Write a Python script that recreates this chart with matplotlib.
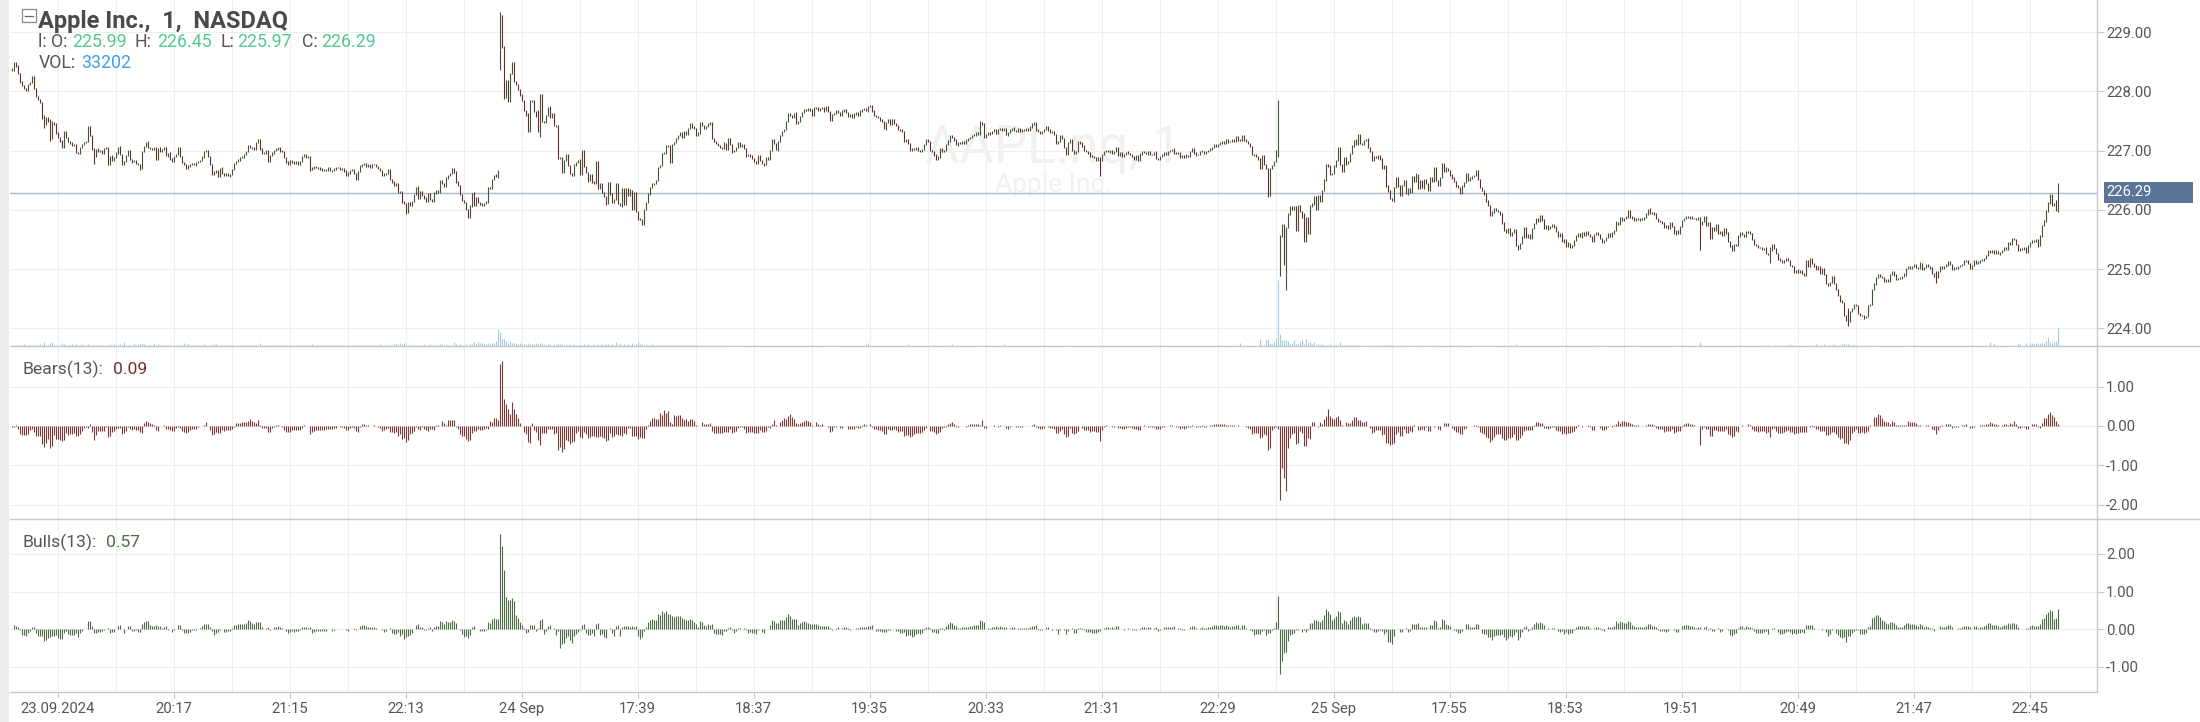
import numpy as np
import matplotlib
matplotlib.use("Agg")
import matplotlib.pyplot as plt
from matplotlib.patches import Rectangle
from matplotlib.lines import Line2D

# ---- data: 1-minute bars, prices in cents above 224.00 ----
day1_close = [
    437, 448, 443, 430, 416, 410, 405, 402, 412, 415,
    425, 405, 392, 387, 382, 354, 345, 356, 350, 320,
    348, 345, 330, 322, 316, 306, 332, 322, 316, 312,
    309, 310, 297, 296, 305, 311, 314, 316, 340, 325,
    303, 290, 302, 298, 301, 296, 304, 305, 276, 290,
    284, 289, 296, 306, 294, 276, 282, 292, 300, 285,
    282, 283, 278, 277, 270, 298, 307, 314, 306, 304,
    302, 306, 286, 304, 299, 302, 305, 292, 295, 286,
    282, 290, 294, 305, 290, 280, 277, 270, 274, 276,
    278, 276, 280, 282, 284, 290, 298, 300, 290, 276,
    260, 264, 266, 257, 270, 262, 259, 262, 258, 260,
    268, 278, 282, 284, 288, 290, 293, 298, 308, 306,
    305, 303, 314, 318, 303, 295, 297, 301, 282, 292,
    296, 300, 303, 305, 300, 298, 288, 281, 277, 284,
    281, 279, 281, 277, 282, 290, 293, 288, 290, 268,
    270, 273, 271, 272, 268, 266, 268, 267, 272, 266,
    267, 268, 272, 271, 268, 270, 266, 258, 262, 266,
    268, 262, 252, 265, 274, 276, 278, 274, 277, 272,
    276, 276, 273, 270, 266, 258, 260, 262, 268, 252,
    247, 242, 244, 230, 231, 213, 211, 196, 212, 208,
    214, 226, 238, 220, 231, 224, 220, 214, 228, 218,
    215, 228, 232, 229, 249, 244, 240, 255, 258, 261,
    269, 264, 247, 241, 226, 216, 213, 200, 188, 206,
    228, 208, 220, 212, 210, 208, 211, 214, 238, 236,
    252, 258, 256, 266,
]
day2_close = [
    528, 474, 390, 418, 384, 430, 448, 417, 412, 404,
    394, 385, 368, 360, 333, 384, 385, 366, 358, 332,
    395, 350, 347, 359, 373, 356, 363, 342, 343, 287,
    288, 264, 283, 294, 275, 261, 258, 276, 280, 284,
    260, 300, 273, 263, 249, 260, 247, 244, 282, 237,
    245, 230, 222, 211, 246, 227, 212, 218, 244, 211,
    207, 236, 210, 236, 224, 233, 200, 230, 197, 185,
    184, 176, 201, 212, 226, 238, 244, 245, 250, 272,
    275, 295, 296, 308, 309, 281, 310, 314, 320, 326,
    330, 322, 332, 328, 337, 345, 340, 337, 326, 330,
    348, 342, 338, 341, 345, 347, 321, 316, 312, 309,
    305, 304, 312, 303, 321, 310, 298, 300, 306, 313,
    308, 311, 304, 292, 294, 290, 287, 282, 279, 292,
    284, 278, 276, 288, 286, 300, 318, 312, 302, 316,
    325, 332, 336, 350, 362, 360, 357, 363, 346, 350,
    358, 364, 370, 368, 371, 369, 360, 372, 373, 368,
    371, 373, 368, 374, 366, 351, 361, 363, 368, 364,
    360, 366, 369, 365, 358, 361, 357, 362, 364, 359,
    367, 370, 371, 368, 374, 376, 367, 360, 358, 356,
    352, 350, 337, 348, 352, 345, 353, 346, 343, 336,
    334, 332, 316, 318, 312, 301, 304, 302, 305, 300,
    298, 302, 310, 318, 315, 301, 298, 292, 286, 290,
    304, 299, 300, 310, 316, 325, 322, 318, 310, 314,
    312, 316, 312, 317, 320, 322, 325, 327, 330, 328,
    348, 345, 322, 328, 331, 329, 333, 335, 330, 336,
    338, 334, 337, 327, 331, 335, 338, 334, 332, 337,
    333, 336, 335, 338, 335, 339, 345, 347, 335, 332,
    330, 332, 336, 340, 335, 331, 333, 328, 313, 316,
    325, 320, 305, 294, 314, 318, 301, 295, 299, 315,
    312, 308, 300, 298, 296, 291, 290, 288, 283, 288,
    284, 294, 298, 300, 298, 300, 296, 299, 306, 292,
    296, 290, 294, 297, 295, 293, 290, 286, 291, 283,
    294, 299, 297, 295, 299, 294, 293, 297, 287, 285,
    290, 293, 297, 294, 298, 300, 302, 296, 295, 297,
    289, 291, 288, 292, 291, 298, 303, 296, 293, 294,
    298, 299, 295, 298, 301, 304, 306, 311, 308, 310,
    313, 316, 313, 318, 315, 316, 319, 316, 323, 318,
    317, 326, 318, 316, 312, 307, 293, 292, 290, 286,
    270, 291, 276, 270, 224, 270, 275, 282, 300, 382,
]
day3_close = [
    156, 176, 108, 170, 193, 205, 200, 206, 166, 207,
    197, 188, 146, 187, 160, 207, 210, 222, 200, 224,
    215, 233, 250, 277, 275, 260, 262, 274, 283, 305,
    276, 265, 288, 278, 282, 295, 308, 317, 310, 328,
    312, 311, 317, 319, 305, 298, 284, 290, 288, 292,
    286, 270, 275, 240, 232, 219, 216, 238, 255, 240,
    225, 241, 249, 228, 236, 230, 257, 248, 260, 236,
    250, 238, 252, 244, 233, 255, 248, 271, 250, 242,
    255, 279, 265, 270, 266, 259, 254, 248, 241, 238,
    228, 240, 246, 261, 250, 254, 256, 258, 266, 252,
    238, 233, 227, 216, 208, 191, 196, 203, 199, 197,
    193, 179, 166, 162, 168, 157, 162, 166, 140, 135,
    143, 154, 170, 154, 158, 152, 168, 177, 185, 181,
    190, 183, 169, 174, 168, 172, 175, 170, 163, 156,
    160, 146, 150, 139, 143, 137, 140, 148, 156, 160,
    155, 161, 157, 163, 159, 155, 146, 159, 162, 158,
    151, 145, 148, 154, 160, 156, 161, 165, 179, 175,
    187, 183, 185, 188, 198, 189, 186, 183, 185, 184,
    186, 184, 187, 193, 201, 194, 196, 193, 185, 182,
    180, 178, 170, 173, 168, 179, 172, 160, 165, 161,
    172, 182, 185, 189, 187, 188, 186, 185, 184, 187,
    175, 181, 188, 174, 178, 152, 170, 166, 175, 160,
    164, 157, 168, 162, 146, 138, 131, 142, 140, 156,
    162, 158, 156, 163, 162, 160, 150, 142, 140, 137,
    136, 134, 135, 126, 125, 132, 141, 135, 126, 117,
    114, 112, 115, 118, 114, 106, 104, 95, 98, 94,
    97, 92, 90, 115, 105, 117, 110, 106, 100, 105,
    93, 101, 91, 75, 73, 78, 88, 76, 66, 55,
    46, 43, 22, 14, 12, 29, 34, 40, 38, 25,
    22, 21, 18, 20, 38, 40, 66, 74, 86, 91,
    88, 86, 80, 82, 80, 91, 95, 90, 82, 84,
    85, 87, 91, 101, 104, 102, 105, 107, 103, 101,
    110, 99, 103, 107, 104, 102, 92, 88, 86, 96,
    104, 101, 105, 107, 112, 108, 100, 103, 101, 104,
    106, 108, 113, 115, 110, 102, 106, 115, 110, 112,
    114, 116, 118, 123, 132, 129, 131, 127, 130, 126,
    128, 131, 137, 133, 144, 141, 151, 150, 142, 132,
    135, 133, 136, 129, 139, 145, 148, 146, 149, 140,
    156, 173, 181, 198, 212, 226, 208, 210, 199, 229,
]
# opening price of each session (cents above 224.00)
day_open = [436, 438, 90]

# wicks beyond the open/close, in cents
day1_wick_up = [
    2, 1, 1, 1, 2, 1, 1, 1, 1, 1, 2, 1, 1, 1, 1, 1, 7, 1, 1, 3,
    2, 1, 1, 1, 1, 2, 1, 1, 1, 1, 2, 1, 1, 1, 1, 1, 1, 1, 2, 1,
    1, 1, 1, 2, 1, 1, 1, 1, 1, 1, 2, 1, 1, 1, 2, 1, 1, 1, 1, 2,
    1, 1, 2, 1, 1, 1, 1, 1, 2, 1, 1, 1, 1, 1, 2, 1, 1, 1, 1, 2,
    1, 1, 1, 1, 2, 1, 1, 1, 1, 1, 2, 1, 1, 1, 1, 1, 1, 2, 1, 1,
    2, 1, 1, 1, 1, 2, 1, 1, 1, 1, 1, 1, 1, 2, 1, 1, 1, 1, 1, 2,
    1, 1, 1, 1, 2, 1, 1, 1, 1, 1, 1, 2, 1, 1, 1, 1, 1, 1, 2, 1,
    1, 1, 2, 1, 1, 1, 1, 1, 1, 1, 2, 1, 1, 1, 1, 2, 1, 1, 1, 1,
    1, 2, 1, 1, 1, 1, 1, 1, 2, 1, 1, 1, 1, 1, 1, 2, 1, 1, 1, 1,
    2, 1, 1, 1, 1, 1, 2, 1, 1, 1, 1, 1, 2, 1, 1, 1, 2, 1, 1, 1,
    1, 1, 1, 2, 1, 1, 1, 2, 1, 1, 1, 2, 1, 1, 1, 2, 1, 1, 1, 1,
    1, 2, 1, 1, 1, 1, 1, 1, 1, 2, 1, 2, 1, 1, 1, 1, 1, 1, 1, 1,
    1, 1, 2, 1,
]
day1_wick_dn = [
    1, 2, 1, 1, 1, 1, 1, 2, 1, 1, 1, 1, 1, 1, 1, 1, 7, 1, 1, 4,
    1, 1, 2, 1, 1, 1, 1, 1, 2, 1, 1, 1, 1, 2, 1, 1, 1, 1, 1, 1,
    1, 12, 1, 1, 1, 1, 2, 1, 1, 1, 1, 1, 1, 2, 1, 1, 1, 1, 1, 1,
    2, 1, 1, 1, 2, 1, 1, 1, 1, 1, 1, 1, 1, 2, 1, 1, 1, 1, 2, 1,
    1, 1, 1, 2, 1, 1, 1, 1, 1, 1, 1, 1, 2, 1, 1, 1, 2, 1, 1, 1,
    1, 1, 2, 1, 1, 1, 1, 1, 1, 2, 1, 1, 1, 1, 1, 1, 2, 1, 1, 1,
    2, 1, 1, 1, 1, 1, 1, 2, 1, 1, 1, 1, 1, 1, 2, 1, 1, 1, 1, 1,
    1, 1, 1, 2, 1, 1, 1, 1, 1, 3, 1, 1, 1, 2, 1, 1, 1, 1, 1, 1,
    2, 1, 1, 1, 1, 1, 2, 1, 1, 1, 1, 1, 1, 2, 1, 1, 1, 1, 1, 2,
    1, 1, 1, 1, 1, 1, 1, 1, 1, 1, 1, 1, 1, 2, 1, 1, 1, 3, 1, 1,
    1, 1, 1, 1, 2, 1, 1, 1, 1, 2, 1, 1, 1, 1, 1, 1, 1, 1, 2, 1,
    1, 1, 1, 1, 1, 1, 1, 1, 2, 1, 1, 1, 1, 1, 1, 1, 1, 1, 2, 1,
    1, 1, 1, 2,
]
day2_wick_up = [
    6, 1, 3, 1, 1, 2, 1, 1, 1, 1, 1, 1, 1, 1, 4, 1, 1, 1, 1, 11,
    1, 1, 1, 1, 1, 2, 1, 1, 1, 1, 1, 1, 2, 1, 1, 1, 1, 1, 1, 1,
    2, 1, 1, 1, 1, 1, 1, 2, 1, 1, 1, 1, 1, 1, 1, 1, 2, 1, 1, 1,
    1, 1, 1, 1, 1, 2, 1, 1, 1, 1, 1, 1, 1, 1, 2, 1, 1, 1, 1, 1,
    1, 1, 2, 1, 1, 1, 1, 1, 1, 1, 2, 1, 1, 1, 1, 1, 1, 2, 1, 1,
    1, 1, 1, 1, 2, 1, 1, 1, 1, 1, 1, 1, 2, 1, 1, 1, 1, 1, 1, 2,
    1, 1, 1, 1, 1, 1, 2, 1, 1, 1, 1, 1, 1, 1, 2, 1, 1, 1, 1, 1,
    2, 1, 1, 1, 1, 1, 1, 1, 2, 1, 1, 1, 1, 1, 1, 1, 1, 2, 1, 1,
    1, 1, 1, 2, 1, 1, 1, 1, 1, 1, 1, 2, 1, 1, 1, 1, 1, 1, 1, 2,
    1, 1, 1, 1, 1, 1, 2, 1, 1, 1, 1, 1, 1, 1, 2, 1, 1, 1, 1, 1,
    1, 2, 1, 1, 1, 1, 1, 1, 1, 1, 2, 1, 1, 1, 1, 1, 1, 1, 2, 1,
    1, 1, 1, 1, 2, 1, 1, 1, 1, 1, 1, 1, 1, 2, 1, 1, 1, 1, 1, 1,
    2, 1, 1, 1, 1, 1, 1, 1, 2, 1, 1, 1, 1, 1, 1, 1, 1, 2, 1, 1,
    1, 1, 1, 1, 1, 2, 1, 1, 1, 1, 1, 1, 1, 1, 2, 1, 1, 1, 1, 1,
    1, 2, 1, 1, 1, 1, 1, 1, 1, 1, 1, 2, 1, 1, 1, 1, 1, 1, 1, 2,
    1, 1, 1, 1, 1, 1, 2, 1, 1, 1, 1, 1, 1, 1, 2, 1, 1, 1, 1, 1,
    2, 1, 1, 1, 1, 1, 1, 1, 2, 1, 1, 1, 1, 1, 1, 1, 1, 2, 1, 1,
    1, 1, 1, 2, 1, 1, 1, 1, 1, 1, 1, 2, 1, 1, 1, 1, 1, 1, 1, 1,
    2, 1, 1, 1, 1, 1, 1, 1, 1, 2, 1, 1, 1, 1, 1, 1, 1, 1, 2, 1,
    1, 1, 1, 1, 1, 1, 1, 1, 1, 4,
]
day2_wick_dn = [
    2, 1, 2, 1, 1, 1, 1, 1, 1, 1, 1, 1, 1, 1, 2, 1, 1, 1, 1, 1,
    9, 1, 1, 1, 1, 1, 1, 1, 2, 1, 1, 1, 1, 1, 1, 1, 1, 1, 2, 1,
    1, 1, 1, 1, 2, 1, 1, 1, 1, 1, 1, 1, 1, 2, 1, 1, 1, 1, 1, 1,
    1, 2, 1, 1, 1, 1, 1, 1, 1, 2, 1, 1, 1, 1, 1, 1, 1, 2, 1, 1,
    1, 1, 1, 1, 1, 2, 1, 1, 1, 1, 1, 1, 1, 1, 2, 1, 1, 1, 1, 1,
    2, 1, 1, 1, 1, 1, 1, 2, 1, 1, 1, 1, 1, 1, 1, 1, 2, 1, 1, 1,
    1, 1, 1, 2, 1, 1, 1, 1, 1, 1, 1, 1, 2, 1, 1, 1, 1, 1, 1, 2,
    1, 1, 1, 1, 1, 1, 2, 1, 1, 1, 1, 1, 1, 1, 1, 2, 1, 1, 1, 1,
    1, 1, 2, 1, 1, 1, 1, 1, 1, 1, 2, 1, 1, 1, 1, 1, 1, 1, 2, 1,
    1, 1, 1, 1, 2, 1, 1, 1, 1, 1, 1, 1, 1, 2, 1, 1, 1, 1, 1, 1,
    1, 1, 1, 1, 1, 1, 2, 1, 1, 1, 1, 1, 1, 1, 1, 2, 1, 1, 1, 1,
    2, 1, 1, 1, 1, 1, 1, 1, 1, 2, 1, 1, 1, 1, 1, 1, 1, 1, 2, 1,
    1, 1, 1, 1, 1, 2, 1, 1, 1, 1, 1, 1, 1, 1, 2, 1, 1, 1, 1, 1,
    1, 1, 2, 1, 1, 1, 1, 1, 1, 1, 1, 2, 1, 1, 1, 1, 1, 1, 1, 2,
    1, 1, 1, 1, 1, 1, 2, 1, 1, 1, 1, 1, 1, 1, 1, 2, 1, 1, 1, 1,
    27, 1, 1, 1, 1, 2, 1, 1, 1, 1, 1, 1, 1, 2, 1, 1, 1, 1, 1, 1,
    1, 1, 1, 1, 2, 1, 1, 1, 1, 1, 1, 1, 2, 1, 1, 1, 1, 1, 1, 1,
    2, 1, 1, 1, 1, 1, 1, 1, 2, 1, 1, 1, 1, 1, 1, 1, 2, 1, 1, 1,
    1, 1, 1, 1, 2, 1, 1, 1, 1, 1, 1, 1, 1, 2, 1, 1, 1, 1, 1, 1,
    1, 1, 1, 1, 3, 1, 1, 1, 1, 10,
]
day3_wick_up = [
    2, 1, 1, 1, 1, 1, 1, 1, 1, 1, 1, 1, 7, 1, 1, 1, 1, 1, 1, 1,
    1, 1, 2, 1, 1, 1, 1, 1, 1, 1, 2, 1, 1, 1, 1, 1, 1, 1, 2, 1,
    1, 1, 1, 1, 2, 1, 1, 1, 1, 1, 1, 1, 1, 1, 2, 1, 1, 1, 1, 1,
    2, 1, 1, 1, 1, 1, 1, 1, 2, 1, 1, 1, 1, 1, 1, 1, 1, 2, 1, 1,
    1, 1, 1, 2, 1, 1, 1, 1, 1, 1, 1, 2, 1, 1, 1, 1, 1, 1, 1, 2,
    1, 1, 1, 1, 1, 1, 2, 1, 1, 1, 1, 1, 1, 1, 2, 1, 1, 1, 1, 1,
    1, 2, 1, 1, 1, 1, 1, 1, 1, 1, 2, 1, 1, 1, 1, 1, 1, 1, 2, 1,
    1, 1, 1, 1, 2, 1, 1, 1, 1, 1, 1, 1, 1, 2, 1, 1, 1, 1, 1, 1,
    2, 1, 1, 1, 1, 1, 1, 1, 2, 1, 1, 1, 1, 1, 1, 1, 1, 2, 1, 1,
    1, 1, 1, 1, 1, 2, 1, 1, 1, 1, 1, 1, 1, 1, 2, 1, 1, 1, 1, 1,
    1, 1, 2, 1, 1, 1, 1, 1, 1, 1, 1, 1, 1, 2, 1, 1, 1, 1, 1, 1,
    1, 1, 1, 1, 1, 1, 2, 1, 1, 1, 1, 1, 1, 1, 1, 2, 1, 1, 1, 1,
    1, 1, 1, 2, 1, 6, 1, 1, 1, 1, 1, 2, 1, 1, 1, 1, 1, 1, 1, 2,
    1, 1, 1, 1, 1, 1, 2, 1, 1, 1, 1, 1, 1, 1, 2, 1, 1, 1, 1, 1,
    1, 2, 1, 1, 20, 1, 1, 1, 1, 2, 1, 1, 1, 1, 1, 1, 1, 2, 1, 1,
    1, 1, 1, 2, 1, 1, 1, 1, 1, 1, 1, 1, 2, 1, 1, 1, 1, 1, 1, 1,
    2, 1, 1, 1, 1, 1, 1, 1, 8, 1, 1, 1, 1, 2, 1, 1, 1, 1, 1, 1,
    1, 1, 2, 1, 1, 1, 1, 1, 1, 1, 2, 1, 1, 1, 1, 1, 1, 1, 2, 1,
    1, 1, 1, 1, 2, 1, 1, 1, 1, 1, 1, 1, 1, 2, 1, 1, 1, 1, 1, 1,
    1, 1, 2, 1, 1, 1, 1, 1, 7, 16,
]
day3_wick_dn = [
    2, 1, 1, 43, 1, 1, 1, 1, 1, 1, 1, 1, 1, 1, 1, 1, 2, 1, 1, 1,
    1, 1, 1, 1, 2, 1, 1, 1, 1, 1, 1, 1, 1, 2, 1, 1, 1, 1, 1, 1,
    1, 2, 1, 1, 1, 1, 1, 1, 1, 2, 1, 1, 1, 1, 1, 1, 1, 2, 1, 1,
    1, 1, 1, 1, 2, 1, 1, 1, 1, 1, 1, 1, 2, 1, 1, 1, 1, 1, 1, 1,
    2, 1, 1, 1, 1, 1, 1, 1, 2, 1, 1, 1, 1, 1, 1, 1, 2, 1, 1, 1,
    1, 1, 1, 2, 1, 1, 1, 1, 1, 1, 1, 2, 1, 1, 1, 1, 1, 1, 1, 2,
    1, 1, 1, 1, 1, 2, 1, 1, 1, 1, 1, 1, 1, 1, 2, 1, 1, 1, 1, 1,
    1, 1, 2, 1, 1, 1, 1, 1, 1, 1, 1, 2, 1, 1, 1, 1, 1, 1, 2, 1,
    1, 1, 1, 1, 1, 1, 2, 1, 1, 1, 1, 1, 1, 1, 1, 2, 1, 1, 1, 1,
    2, 1, 1, 1, 1, 1, 1, 1, 1, 2, 1, 1, 1, 1, 1, 1, 1, 1, 2, 1,
    1, 1, 1, 1, 1, 2, 1, 1, 1, 1, 42, 1, 1, 1, 1, 1, 1, 2, 1, 1,
    1, 1, 1, 2, 1, 1, 1, 1, 1, 1, 1, 1, 2, 1, 1, 1, 1, 1, 1, 1,
    1, 1, 2, 1, 1, 15, 1, 1, 1, 1, 1, 1, 1, 2, 1, 1, 1, 1, 1, 1,
    1, 1, 1, 1, 1, 1, 1, 2, 1, 1, 1, 1, 1, 1, 1, 2, 1, 1, 1, 1,
    2, 1, 1, 1, 8, 1, 1, 1, 1, 1, 1, 1, 2, 1, 1, 1, 1, 1, 1, 1,
    1, 1, 2, 1, 1, 1, 1, 1, 1, 1, 1, 1, 1, 2, 1, 1, 1, 1, 1, 1,
    1, 1, 1, 1, 1, 2, 1, 1, 10, 1, 1, 1, 1, 1, 1, 1, 2, 1, 1, 1,
    1, 1, 1, 1, 2, 1, 1, 1, 1, 1, 1, 1, 2, 1, 1, 1, 1, 1, 1, 1,
    2, 1, 1, 1, 1, 1, 1, 1, 1, 1, 2, 1, 1, 1, 1, 1, 1, 1, 1, 2,
    1, 1, 1, 1, 1, 2, 1, 1, 1, 2,
]

# volume in thousands of shares
day1_vol = [
    1, 2, 1, 1, 2, 1, 3, 1, 1, 2,
    1, 1, 2, 1, 3, 2, 8, 2, 1, 5,
    8, 2, 1, 2, 1, 6, 3, 1, 2, 1,
    3, 1, 3, 1, 2, 3, 1, 1, 3, 2,
    1, 2, 1, 1, 2, 1, 1, 2, 1, 3,
    1, 3, 1, 2, 4, 1, 8, 2, 1, 1,
    2, 6, 1, 4, 3, 5, 3, 1, 2, 1,
    1, 6, 1, 3, 1, 1, 2, 1, 1, 1,
    2, 1, 1, 1, 2, 1, 5, 1, 3, 1,
    1, 1, 2, 1, 1, 1, 3, 1, 1, 2,
    1, 4, 4, 1, 1, 2, 1, 1, 1, 1,
    1, 2, 1, 1, 1, 1, 1, 2, 1, 1,
    1, 1, 1, 1, 6, 1, 1, 1, 2, 1,
    1, 1, 1, 2, 1, 1, 1, 2, 1, 1,
    1, 1, 1, 1, 2, 1, 1, 1, 1, 1,
    4, 1, 1, 1, 1, 1, 2, 1, 1, 1,
    1, 1, 1, 1, 1, 1, 2, 1, 1, 1,
    1, 1, 1, 1, 1, 1, 1, 1, 1, 1,
    1, 1, 2, 1, 4, 1, 1, 1, 1, 2,
    1, 3, 4, 3, 5, 4, 5, 2, 1, 2,
    1, 2, 1, 1, 1, 2, 3, 2, 1, 3,
    1, 1, 1, 2, 4, 3, 2, 4, 1, 2,
    2, 7, 3, 2, 3, 1, 2, 3, 2, 3,
    4, 7, 4, 8, 6, 5, 4, 3, 5, 4,
    5, 6, 9, 30,
]
day2_vol = [
    26, 12, 13, 9, 6, 7, 5, 6, 5, 4,
    5, 4, 3, 4, 6, 3, 4, 3, 5, 4,
    6, 3, 3, 2, 3, 4, 2, 3, 2, 5,
    4, 3, 2, 3, 2, 4, 2, 3, 2, 2,
    3, 2, 4, 2, 3, 2, 2, 3, 2, 4,
    2, 3, 2, 4, 3, 2, 3, 2, 7, 2,
    3, 2, 4, 2, 3, 2, 5, 2, 3, 7,
    3, 4, 2, 3, 2, 2, 3, 2, 1, 2,
    2, 1, 2, 2, 1, 2, 1, 2, 1, 2,
    1, 2, 1, 1, 2, 1, 1, 2, 1, 1,
    2, 1, 1, 0, 1, 0, 1, 0, 2, 0,
    0, 1, 0, 0, 2, 0, 0, 0, 1, 0,
    0, 0, 0, 0, 0, 0, 0, 0, 0, 0,
    0, 0, 0, 0, 0, 0, 0, 0, 0, 0,
    0, 0, 0, 0, 0, 0, 0, 0, 0, 0,
    0, 0, 0, 0, 0, 0, 0, 0, 0, 0,
    0, 0, 0, 0, 1, 0, 0, 1, 0, 0,
    0, 0, 0, 0, 0, 0, 0, 0, 0, 0,
    0, 0, 0, 4, 5, 0, 0, 0, 0, 0,
    0, 0, 0, 0, 0, 0, 0, 0, 0, 0,
    0, 0, 0, 0, 3, 0, 0, 0, 0, 0,
    0, 0, 0, 0, 0, 0, 0, 2, 0, 0,
    0, 0, 0, 2, 0, 0, 3, 0, 0, 0,
    0, 0, 0, 0, 0, 0, 0, 0, 0, 0,
    0, 2, 0, 0, 0, 0, 0, 0, 0, 0,
    0, 0, 3, 0, 0, 0, 0, 0, 0, 0,
    0, 0, 0, 0, 0, 0, 0, 0, 0, 0,
    0, 0, 0, 0, 0, 0, 0, 0, 0, 0,
    0, 0, 0, 2, 0, 0, 0, 0, 0, 0,
    0, 0, 0, 0, 0, 0, 0, 0, 0, 0,
    2, 0, 0, 0, 0, 0, 0, 0, 0, 0,
    0, 0, 0, 0, 0, 0, 0, 0, 0, 0,
    0, 0, 0, 0, 0, 0, 0, 0, 0, 1,
    0, 0, 0, 0, 0, 0, 0, 0, 0, 0,
    0, 0, 0, 0, 0, 0, 0, 0, 0, 0,
    0, 0, 0, 0, 0, 0, 0, 0, 0, 0,
    0, 0, 0, 0, 0, 0, 0, 0, 0, 0,
    5, 0, 0, 0, 0, 0, 0, 0, 0, 0,
    12, 2, 2, 10, 12, 5, 3, 7, 14, 119,
]
day3_vol = [
    21, 10, 10, 10, 9, 3, 3, 10, 3, 3,
    7, 10, 3, 12, 5, 7, 3, 7, 2, 3,
    2, 3, 2, 2, 2, 3, 1, 2, 2, 2,
    7, 2, 2, 2, 1, 2, 1, 1, 2, 1,
    1, 0, 0, 0, 1, 0, 2, 0, 0, 1,
    1, 2, 1, 2, 2, 1, 2, 2, 0, 1,
    2, 0, 1, 0, 0, 0, 0, 1, 0, 1,
    0, 1, 0, 1, 0, 0, 0, 1, 0, 1,
    0, 0, 0, 0, 0, 0, 0, 0, 2, 1,
    0, 1, 0, 0, 0, 0, 0, 1, 0, 0,
    0, 0, 0, 2, 0, 0, 1, 0, 0, 0,
    0, 0, 2, 0, 0, 0, 0, 0, 3, 0,
    0, 0, 0, 0, 0, 0, 0, 0, 0, 0,
    0, 0, 0, 0, 0, 0, 0, 0, 0, 0,
    0, 0, 0, 0, 0, 0, 0, 0, 0, 0,
    0, 0, 0, 0, 0, 0, 0, 0, 0, 1,
    1, 0, 0, 0, 0, 0, 0, 0, 0, 0,
    0, 0, 0, 0, 0, 0, 0, 0, 1, 0,
    0, 0, 0, 0, 0, 0, 0, 0, 0, 0,
    0, 0, 0, 0, 0, 0, 0, 0, 0, 1,
    0, 0, 0, 0, 0, 0, 0, 0, 0, 0,
    8, 2, 0, 0, 0, 0, 0, 0, 0, 0,
    0, 0, 0, 0, 0, 0, 0, 0, 0, 0,
    0, 0, 0, 0, 0, 0, 0, 0, 0, 0,
    0, 1, 0, 0, 1, 0, 0, 1, 0, 0,
    1, 0, 2, 1, 2, 3, 1, 2, 1, 0,
    0, 0, 0, 0, 0, 0, 0, 1, 4, 1,
    1, 0, 4, 0, 0, 1, 2, 4, 1, 2,
    2, 4, 4, 4, 3, 2, 2, 2, 2, 0,
    0, 1, 0, 1, 0, 2, 0, 1, 0, 0,
    0, 0, 0, 0, 0, 0, 0, 0, 0, 0,
    0, 0, 0, 0, 1, 0, 0, 0, 0, 0,
    0, 0, 0, 0, 0, 0, 0, 0, 0, 0,
    0, 0, 0, 0, 0, 0, 0, 0, 0, 0,
    0, 0, 0, 0, 0, 0, 0, 0, 0, 0,
    0, 0, 0, 0, 0, 7, 0, 5, 0, 0,
    0, 0, 0, 0, 2, 0, 0, 0, 0, 5,
    3, 0, 0, 5, 0, 5, 5, 3, 5, 3,
    5, 6, 6, 9, 16, 8, 5, 8, 9, 33.202,
]

time_labels = ["23.09.2024", "20:17", "21:15", "22:13", "24 Sep", "17:39",
               "18:37", "19:35", "20:33", "21:31", "22:29", "25 Sep",
               "17:55", "18:53", "19:51", "20:49", "21:47", "22:45"]
price_ticks = [224, 225, 226, 227, 228, 229]
bears_ticks = [1, 0, -1, -2]
bulls_ticks = [2, 1, 0, -1]
bears_text = "0.09"
bulls_text = "0.57"

# ---- build OHLC ----
days_close = [day1_close, day2_close, day3_close]
opens_c = []
for d, cl in enumerate(days_close):
    opens_c += [day_open[d]] + cl[:-1]
closes = np.array(day1_close + day2_close + day3_close) / 100 + 224
opens = np.array(opens_c) / 100 + 224
wick_up = np.array(day1_wick_up + day2_wick_up + day3_wick_up) / 100
wick_dn = np.array(day1_wick_dn + day2_wick_dn + day3_wick_dn) / 100
highs = np.maximum(opens, closes) + wick_up
lows = np.minimum(opens, closes) - wick_dn
vol = np.array(day1_vol + day2_vol + day3_vol, dtype=float)
n = len(closes)
x = np.arange(n)

# Bears / Bulls power, 13-period EMA of close
ema = np.empty(n)
ema[0] = closes[0]
alpha = 2 / 14
for i in range(1, n):
    ema[i] = ema[i - 1] + alpha * (closes[i] - ema[i - 1])
bulls = highs - ema
bears = lows - ema

# ---- style ----
plt.rcParams['font.family'] = ['Roboto', 'DejaVu Sans']
plt.rcParams['axes.unicode_minus'] = False
UP = '#3b5b35'
DOWN = '#672c28'
BEAR = '#7c3936'
BULL = '#4c6c45'
VOLC = '#9fcbec'
GRID = '#eeeeee'
SEP = '#c8c8c8'
TXT = '#555555'

W_PX, H_PX = 2200, 722
fig = plt.figure(figsize=(22, 7.22), dpi=100)
fig.patch.set_facecolor('white')


def fx(px):
    return px / W_PX


def fy(py):
    return 1 - py / H_PX


LEFT, RIGHT = 10, 2097


def panel(top, bottom):
    return fig.add_axes([fx(LEFT), fy(bottom), (RIGHT - LEFT) / W_PX, (bottom - top) / H_PX])


ax_p = panel(0, 346)
ax_be = panel(346, 519)
ax_bu = panel(519, 691.7)

xmin = -0.75
xmax = xmin + (RIGHT - LEFT) / 2
grid_x = list(range(23, n, 29))
label_x = grid_x[::2]

setups = [
    (ax_p, (223.701, 229.5456), price_ticks),
    (ax_be, (-2.359, 2.029), bears_ticks),
    (ax_bu, (-1.657, 2.928), bulls_ticks),
]
for ax, ylim, yt in setups:
    ax.set_xlim(xmin, xmax)
    ax.set_ylim(*ylim)
    for s in ax.spines.values():
        s.set_visible(False)
    ax.spines['right'].set_visible(True)
    ax.spines['right'].set_color(SEP)
    ax.spines['right'].set_linewidth(1.0)
    ax.yaxis.tick_right()
    ax.set_yticks(yt)
    ax.set_yticklabels([f"{v:.2f}" for v in yt])
    ax.tick_params(axis='y', length=5, width=0.8, color=SEP, labelsize=10.7,
                   labelcolor=TXT, pad=1.5)
    ax.vlines(grid_x, 0, 1, transform=ax.get_xaxis_transform(), colors=GRID,
              linewidth=0.8, zorder=0)
    ax.hlines(yt, 0, 1, transform=ax.get_yaxis_transform(), colors=GRID,
              linewidth=0.8, zorder=0)
    ax.set_xticks([])

# x axis on the bottom panel
ax_bu.set_xticks(label_x)
ax_bu.set_xticklabels(time_labels)
ax_bu.tick_params(axis='x', length=4.3, width=0.8, color=SEP, labelsize=10.7,
                  labelcolor=TXT, pad=3)
ax_bu.spines['bottom'].set_visible(True)
ax_bu.spines['bottom'].set_color(SEP)
ax_bu.spines['bottom'].set_linewidth(1.0)

# watermark
ax_p.text(fx(1053), fy(163), "AAPL.nq, 1", transform=fig.transFigure, ha='center',
          va='baseline', fontsize=38, color='#f1f1f1', zorder=0.5)
ax_p.text(fx(1053), fy(192), "Apple Inc.", transform=fig.transFigure, ha='center',
          va='baseline', fontsize=19, color='#f1f1f1', zorder=0.5)

# volume, drawn on the price panel's scale
y0, y1 = ax_p.get_ylim()
vscale = (y1 - y0) / 627.7
has_vol = vol > 0
ax_p.vlines(x[has_vol], y0, y0 + vol[has_vol] * vscale, colors=VOLC, linewidth=0.8, zorder=2)

# last price line
ax_p.axhline(closes[-1], color='#a9b8cc', linewidth=1.0, zorder=2.5)

# price bars
bar_colors = np.where(closes >= opens, UP, DOWN)
ax_p.vlines(x, lows, highs, colors=bar_colors, linewidth=0.8, zorder=3)

# indicators
ax_be.vlines(x, 0, bears, colors=BEAR, linewidth=0.8, zorder=3)
ax_bu.vlines(x, 0, bulls, colors=BULL, linewidth=0.8, zorder=3)

# panel separators and left strip
for yy in (346, 519):
    fig.add_artist(Line2D([fx(LEFT), 1], [fy(yy), fy(yy)], color=SEP, linewidth=1.0))
fig.add_artist(Rectangle((0, 0), fx(9), 1, transform=fig.transFigure,
                         facecolor='#ececec', edgecolor='none', zorder=5))

# last price tag
fig.add_artist(Rectangle((fx(2104), fy(203)), fx(89), 21 / H_PX, transform=fig.transFigure,
                         facecolor='#5b7596', edgecolor='none', zorder=6))
fig.text(fx(2106), fy(192.5), f"{closes[-1]:.2f}", color='white', fontsize=10.7,
         va='center', zorder=7)

# header
fig.add_artist(Rectangle((fx(22), fy(22)), fx(14), 13 / H_PX, transform=fig.transFigure,
                         facecolor='white', edgecolor='#8a8a8a', linewidth=0.9, zorder=6))
fig.add_artist(Line2D([fx(25), fx(33)], [fy(15.5), fy(15.5)], color='#666666',
                      linewidth=0.9, zorder=7))
fig.text(fx(38), fy(27.7), "Apple Inc.,  1,  NASDAQ", fontsize=17, weight='bold',
         color='#4a4a4a', va='baseline')

GREEN_T = '#52c995'
parts = [("l: O:", 38.3, TXT), (f"{opens[-1]:.2f}", 71.7, GREEN_T),
         ("H:", 135, TXT), (f"{highs[-1]:.2f}", 156.7, GREEN_T),
         ("L:", 220, TXT), (f"{lows[-1]:.2f}", 237.3, GREEN_T),
         ("C:", 301.7, TXT), (f"{closes[-1]:.2f}", 320.7, GREEN_T)]
for s, px_, c in parts:
    fig.text(fx(px_), fy(47.3), s, fontsize=12.8, color=c, va='baseline')
fig.text(fx(38.3), fy(67.7), "VOL:", fontsize=12.8, color=TXT, va='baseline')
fig.text(fx(80.7), fy(67.7), f"{vol[-1] * 1000:.0f}", fontsize=12.8, color='#3f9fe8',
         va='baseline')

fig.text(fx(22.3), fy(374.3), "Bears(13):", fontsize=12.6, color=TXT, va='baseline')
fig.text(fx(113.3), fy(374.3), bears_text, fontsize=12.6, color='#7a2e2e', va='baseline')
fig.text(fx(22.3), fy(547.3), "Bulls(13):", fontsize=12.6, color=TXT, va='baseline')
fig.text(fx(106), fy(547.3), bulls_text, fontsize=12.6, color='#4a6e43', va='baseline')

fig.savefig('out.png', dpi=100)
